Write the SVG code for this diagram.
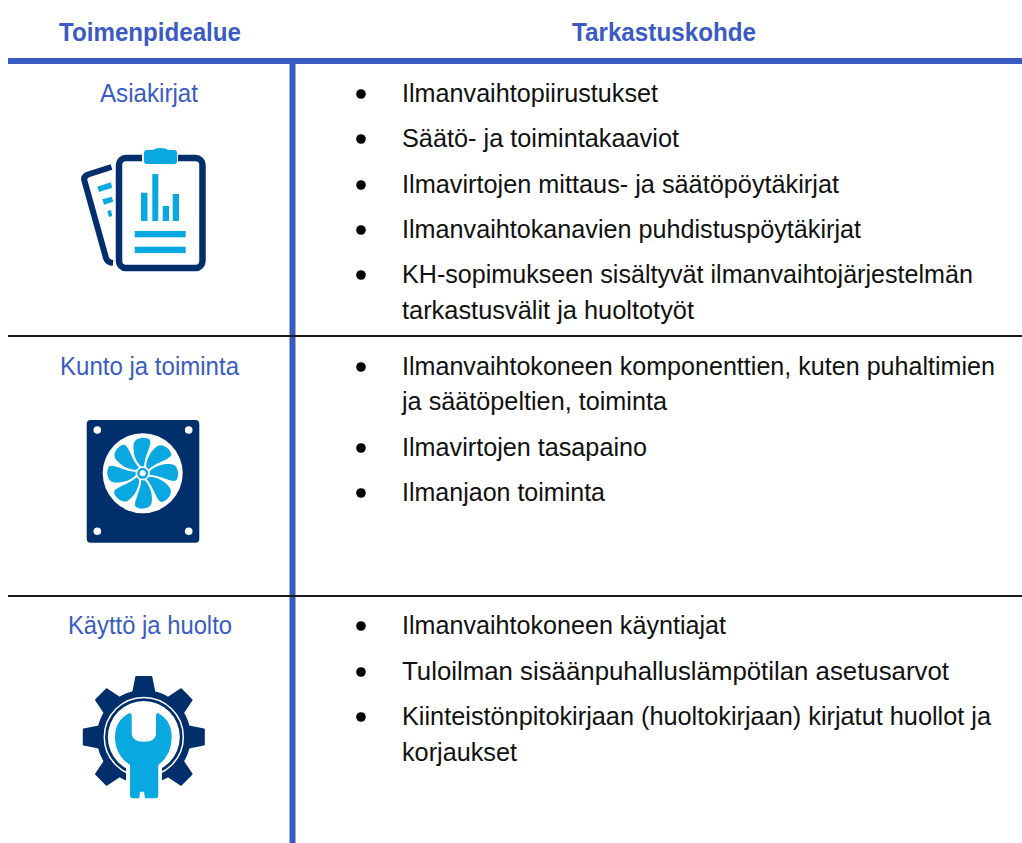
<svg xmlns="http://www.w3.org/2000/svg" xmlns:xlink="http://www.w3.org/1999/xlink" width="1022" height="843" viewBox="0 0 1022 843">
<style>
text{font-family:"Liberation Sans",Arial,sans-serif;font-size:26px}
.h{fill:#3a5cc2;font-weight:bold}
.a{fill:#3a5cc2}
.b{fill:#111}
.navy{fill:#002f6c}
.sky{fill:#0aa8e0}
.rule{fill:#3a5cc2}
.thin{fill:#1a1a1a}
.dot{fill:#000}
</style>
<defs>
<path id="blade" class="sky" d="M-2,-7 C-8,-13 -10,-22 -9,-29 C-8,-36 3,-37 7,-33.500 C10,-29.500 2,-18 1.500,-7 Z"/>
<path id="tooth" class="navy" stroke="#002f6c" stroke-width="2" stroke-linejoin="round" d="M-11.500,-40 L-7.500,-60 L7.500,-60 L11.500,-40 Z"/>
</defs>
<g id="table-rules">
<rect class="rule" x="8" y="58" width="1014" height="6"/>
<rect class="rule" x="289.500" y="58" width="6" height="785"/>
<rect class="thin" x="8" y="335" width="1014" height="2"/>
<rect class="thin" x="8" y="595" width="1014" height="2"/>
</g>
<g id="headers">
<text class="h" x="59" y="41" textLength="182" lengthAdjust="spacingAndGlyphs">Toimenpidealue</text>
<text class="h" x="572" y="41" textLength="184" lengthAdjust="spacingAndGlyphs">Tarkastuskohde</text>
</g>
<g id="row-asiakirjat">
<text class="a" x="100" y="102" textLength="98" lengthAdjust="spacingAndGlyphs">Asiakirjat</text>
<g id="icon-documents">
<path d="M111.500,167 L88,174.500 Q83,176.500 84.500,181 L106,258 Q107.500,262.500 113,263" fill="none" stroke="#002f6c" stroke-width="6"/>
<path class="sky" d="M97.300,186.700 L110.700,182.300 L112.300,187.700 L99,192 Z M102.300,199.300 L111.700,196.700 L113.300,201.700 L104,204.700 Z M107.300,211 L111,210 L112.300,216 L109,217 Z"/>
<rect x="119" y="158" width="83.500" height="110" rx="7" fill="#fff" stroke="#002f6c" stroke-width="6.500"/>
<rect x="142" y="150" width="36" height="12" fill="#fff"/>
<path class="sky" d="M144,153 Q144,150 147,150 L153,150 Q155,148 160.500,148 Q166,148 168,150 L174,150 Q177,150 177,153 L177,161 Q177,164 174,164 L147,164 Q144,164 144,161 Z"/>
<rect class="sky" x="141" y="192.700" width="6.500" height="28.300"/>
<rect class="sky" x="152.300" y="174" width="6" height="47"/>
<rect class="sky" x="162.700" y="206" width="6.300" height="15"/>
<rect class="sky" x="172.700" y="194" width="6.300" height="27"/>
<rect class="sky" x="134.700" y="231" width="51" height="6.300"/>
<rect class="sky" x="134.700" y="246.700" width="51" height="6.300"/>
</g>
<circle class="dot" cx="361" cy="94" r="4.800"/>
<text class="b" x="402" y="102" textLength="256" lengthAdjust="spacingAndGlyphs">Ilmanvaihtopiirustukset</text>
<circle class="dot" cx="361" cy="139" r="4.800"/>
<text class="b" x="402" y="147" textLength="277" lengthAdjust="spacingAndGlyphs">Säätö- ja toimintakaaviot</text>
<circle class="dot" cx="361" cy="185" r="4.800"/>
<text class="b" x="402" y="193" textLength="437" lengthAdjust="spacingAndGlyphs">Ilmavirtojen mittaus- ja säätöpöytäkirjat</text>
<circle class="dot" cx="361" cy="230" r="4.800"/>
<text class="b" x="402" y="238" textLength="459" lengthAdjust="spacingAndGlyphs">Ilmanvaihtokanavien puhdistuspöytäkirjat</text>
<circle class="dot" cx="361" cy="275" r="4.800"/>
<text class="b" x="402" y="283" textLength="571" lengthAdjust="spacingAndGlyphs">KH-sopimukseen sisältyvät ilmanvaihtojärjestelmän</text>
<text class="b" x="402" y="319" textLength="292" lengthAdjust="spacingAndGlyphs">tarkastusvälit ja huoltotyöt</text>
</g>
<g id="row-kunto">
<text class="a" x="60" y="375" textLength="179" lengthAdjust="spacingAndGlyphs">Kunto ja toiminta</text>
<g id="icon-fan">
<rect class="navy" x="86.700" y="420" width="112.600" height="122.700" rx="4"/>
<g fill="#fff">
<circle cx="97.300" cy="430" r="3.800"/><circle cx="188.700" cy="430" r="3.800"/>
<circle cx="97.300" cy="531.300" r="3.800"/><circle cx="188.700" cy="531.300" r="3.800"/>
<circle cx="142.700" cy="473.300" r="40"/>
</g>
<g transform="translate(142.700 473.300)">
<use xlink:href="#blade" href="#blade"/>
<use xlink:href="#blade" href="#blade" transform="rotate(45)"/>
<use xlink:href="#blade" href="#blade" transform="rotate(90)"/>
<use xlink:href="#blade" href="#blade" transform="rotate(135)"/>
<use xlink:href="#blade" href="#blade" transform="rotate(180)"/>
<use xlink:href="#blade" href="#blade" transform="rotate(225)"/>
<use xlink:href="#blade" href="#blade" transform="rotate(270)"/>
<use xlink:href="#blade" href="#blade" transform="rotate(315)"/>
<circle class="sky" r="5.500"/>
<circle fill="#fff" r="3"/>
</g>
</g>
<circle class="dot" cx="361" cy="367" r="4.800"/>
<text class="b" x="402" y="375" textLength="593" lengthAdjust="spacingAndGlyphs">Ilmanvaihtokoneen komponenttien, kuten puhaltimien</text>
<text class="b" x="402" y="410" textLength="265" lengthAdjust="spacingAndGlyphs">ja säätöpeltien, toiminta</text>
<circle class="dot" cx="361" cy="448" r="4.800"/>
<text class="b" x="402" y="456" textLength="245" lengthAdjust="spacingAndGlyphs">Ilmavirtojen tasapaino</text>
<circle class="dot" cx="361" cy="493" r="4.800"/>
<text class="b" x="402" y="501" textLength="203" lengthAdjust="spacingAndGlyphs">Ilmanjaon toiminta</text>
</g>
<g id="row-kaytto">
<text class="a" x="68" y="634" textLength="164" lengthAdjust="spacingAndGlyphs">Käyttö ja huolto</text>
<g id="icon-gear">
<g transform="translate(143.800 737)">
<use xlink:href="#tooth" href="#tooth"/>
<use xlink:href="#tooth" href="#tooth" transform="rotate(45)"/>
<use xlink:href="#tooth" href="#tooth" transform="rotate(90)"/>
<use xlink:href="#tooth" href="#tooth" transform="rotate(135)"/>
<use xlink:href="#tooth" href="#tooth" transform="rotate(225)"/>
<use xlink:href="#tooth" href="#tooth" transform="rotate(270)"/>
<use xlink:href="#tooth" href="#tooth" transform="rotate(315)"/>
<circle class="navy" r="47"/>
<circle r="39.500" fill="none" stroke="#fff" stroke-width="1.500"/>
<circle r="36" fill="#fff"/>
</g>
<rect x="126" y="760" width="36" height="40" fill="#fff"/>
<path class="sky" d="M130,712.700 L131.700,715 L131.700,733 Q132,741.700 144,741.700 Q156,741.700 156,733 L156,715 L157.300,712.700 Q171.700,720 171.700,737 Q171.700,755 158.300,765 L158.300,795 Q158.300,798.300 155,798.300 L145,798.300 L144,791.700 L140,791.700 L139.300,798.300 L133,798.300 Q130,798.300 130,795 L130,765 Q115,755 115,737 Q115,720 130,712.700 Z"/>
</g>
<circle class="dot" cx="361" cy="626" r="4.800"/>
<text class="b" x="402" y="634" textLength="324" lengthAdjust="spacingAndGlyphs">Ilmanvaihtokoneen käyntiajat</text>
<circle class="dot" cx="361" cy="672" r="4.800"/>
<text class="b" x="402" y="680" textLength="547" lengthAdjust="spacingAndGlyphs">Tuloilman sisäänpuhalluslämpötilan asetusarvot</text>
<circle class="dot" cx="361" cy="717" r="4.800"/>
<text class="b" x="402" y="725" textLength="589" lengthAdjust="spacingAndGlyphs">Kiinteistönpitokirjaan (huoltokirjaan) kirjatut huollot ja</text>
<text class="b" x="402" y="761" textLength="115" lengthAdjust="spacingAndGlyphs">korjaukset</text>
</g>
</svg>
